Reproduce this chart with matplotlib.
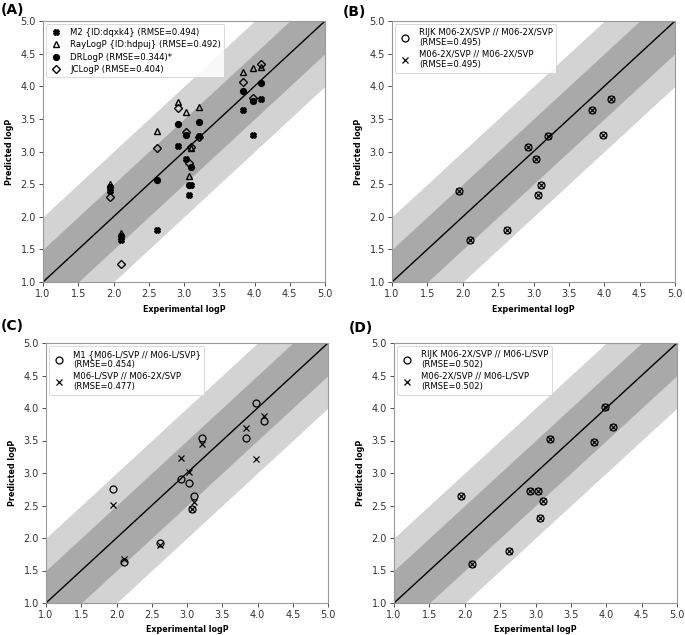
import numpy as np
from matplotlib import pyplot as plt

# experimental logP of the 11 compounds
exp_logp = [1.95, 2.10, 2.62, 2.92, 3.03, 3.07, 3.10, 3.21, 3.83, 3.98, 4.09]

# panel A
m2 = [2.40, 1.65, 1.80, 3.08, 2.88, 2.34, 2.48, 3.23, 3.63, 3.25, 3.80]
raylogp = [2.50, 1.75, 3.32, 3.76, 3.60, 2.62, 3.05, 3.68, 4.22, 4.28, 4.30]
drlogp = [2.45, 1.70, 2.56, 3.42, 3.25, 2.48, 2.76, 3.45, 3.93, 3.77, 4.05]
jclogp = [2.31, 1.28, 3.06, 3.66, 3.30, 2.83, 3.07, 3.22, 4.07, 3.82, 4.34]

# panel B
rijk_2x_2x = [2.40, 1.64, 1.80, 3.07, 2.88, 2.34, 2.48, 3.23, 3.63, 3.25, 3.80]
m2x_2x = [2.40, 1.64, 1.80, 3.07, 2.88, 2.34, 2.48, 3.23, 3.63, 3.25, 3.80]

# panel C
m1_l_l = [2.75, 1.63, 1.92, 2.91, 2.85, 2.44, 2.65, 3.54, 3.54, 4.08, 3.80]
ml_2x = [2.51, 1.68, 1.90, 3.23, 3.01, 2.44, 2.56, 3.45, 3.69, 3.21, 3.88]

# panel D
rijk_2x_l = [2.65, 1.60, 1.80, 2.73, 2.73, 2.31, 2.57, 3.52, 3.47, 4.02, 3.71]
m2x_l = [2.65, 1.60, 1.80, 2.73, 2.73, 2.31, 2.57, 3.52, 3.47, 4.02, 3.71]

fig = plt.figure(figsize=(6.85, 6.35), dpi=100)
W, H = 685., 635.
# axes boxes in pixels: left, top, right, bottom
boxes = [(43, 21, 325, 282), (392, 21, 675, 282),
         (46, 343, 328, 603), (394, 343, 677, 603)]
letters = ['(A)', '(B)', '(C)', '(D)']
letter_pos = [(1, 10), (343, 12), (1, 326), (349, 328)]

def make_ax(box):
    l, t, r, b = box
    ax = fig.add_axes([l/W, 1-b/H, (r-l)/W, (b-t)/H])
    xx = np.array([0.0, 6.0])
    ax.fill_between(xx, xx-1, xx+1, color='#d3d3d3', lw=0, zorder=0)
    ax.fill_between(xx, xx-0.5, xx+0.5, color='#a9a9a9', lw=0, zorder=0)
    ax.plot(xx, xx, color='k', lw=1, zorder=1)
    ax.set_xlim(1, 5)
    ax.set_ylim(1, 5)
    ax.set_xticks(np.arange(1, 5.01, 0.5))
    ax.set_yticks(np.arange(1, 5.01, 0.5))
    ax.tick_params(labelsize=7, colors='#333333', length=3, width=0.6, pad=2)
    for s in ax.spines.values():
        s.set_color('#999999')
        s.set_linewidth(0.8)
    ax.set_xlabel('Experimental logP', fontsize=5.8, fontweight='bold', labelpad=4)
    ax.set_ylabel('Predicted logP', fontsize=5.8, fontweight='bold', labelpad=5)
    return ax

axes = [make_ax(b) for b in boxes]
for lt, (px, py) in zip(letters, letter_pos):
    fig.text(px/W, 1-py/H, lt, fontsize=10, fontweight='bold', va='center', ha='left')

ms = 4.2
ax = axes[0]
ax.plot(exp_logp, m2, 'X', color='k', ms=ms, ls='none', label='M2 {ID:dqxk4} (RMSE=0.494)')
ax.plot(exp_logp, raylogp, '^', mfc='none', mec='k', ms=ms, ls='none', label='RayLogP {ID:hdpuj} (RMSE=0.492)')
ax.plot(exp_logp, drlogp, 'o', color='k', ms=ms, ls='none', label='DRLogP (RMSE=0.344)*')
ax.plot(exp_logp, jclogp, 'D', mfc='none', mec='k', ms=3.8, ls='none', label='JCLogP (RMSE=0.404)')

pairs = [(axes[1], rijk_2x_2x, m2x_2x, 'RIJK M06-2X/SVP // M06-2X/SVP\n(RMSE=0.495)', 'M06-2X/SVP // M06-2X/SVP\n(RMSE=0.495)'),
         (axes[2], m1_l_l, ml_2x, 'M1 {M06-L/SVP // M06-L/SVP}\n(RMSE=0.454)', 'M06-L/SVP // M06-2X/SVP\n(RMSE=0.477)'),
         (axes[3], rijk_2x_l, m2x_l, 'RIJK M06-2X/SVP // M06-L/SVP\n(RMSE=0.502)', 'M06-2X/SVP // M06-L/SVP\n(RMSE=0.502)')]
for ax, ya, yb, la, lb in pairs:
    ax.plot(exp_logp, ya, 'o', mfc='none', mec='k', ms=5, mew=0.9, ls='none', label=la)
    ax.plot(exp_logp, yb, 'x', color='k', ms=4.5, mew=0.9, ls='none', label=lb)

for i, ax in enumerate(axes):
    leg = ax.legend(loc='upper left', fontsize=6.1, handletextpad=0.9, borderaxespad=0.4,
                    labelspacing=0.4 if i == 0 else 0.3, fancybox=True, framealpha=0.85,
                    handlelength=1.5)
    leg.get_frame().set_edgecolor('#cccccc')
    leg.get_frame().set_linewidth(0.6)

plt.savefig('out.png', dpi=100)
